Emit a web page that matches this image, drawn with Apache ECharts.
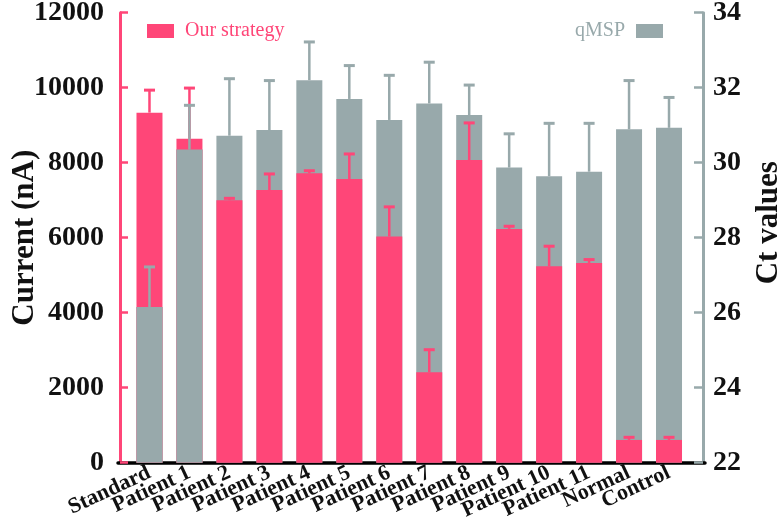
<!DOCTYPE html>
<html>
<head>
<meta charset="utf-8">
<script src="https://cdn.jsdelivr.net/npm/echarts@6/dist/echarts.min.js"></script>
<style>html,body{margin:0;padding:0;background:#fff;}#chart{width:784px;height:532px;}</style>
</head>
<body>
<div id="chart"></div>
<script>
const categories = ['Standard','Patient 1','Patient 2','Patient 3','Patient 4','Patient 5','Patient 6','Patient 7','Patient 8','Patient 9','Patient 10','Patient 11','Normal','Control'];
const currentValues = [9335, 8640, 7000, 7270, 7716, 7563, 6032, 2413, 8071, 6235, 5238, 5327, 607, 607];
const currentErrors = [600, 1350, 50, 430, 70, 670, 790, 600, 990, 70, 535, 90, 70, 70];
const ctValues = [26.15, 30.35, 30.72, 30.87, 32.2, 31.7, 31.14, 31.58, 31.27, 29.87, 29.64, 29.76, 30.89, 30.93];
const ctErrors = [1.07, 1.18, 1.52, 1.32, 1.02, 0.89, 1.19, 1.1, 0.8, 0.9, 1.41, 1.29, 1.3, 0.81];
const currentTicks = {min: 0, max: 12000, interval: 2000};
const ctTicks = {min: 22, max: 34, interval: 2};

const PINK = '#ff4678';
const GRAY = '#98a9ab';
const FONT = 'Liberation Serif';

// gray bar drawn in front where it is the shorter of the two
const ctFront = ctValues.map((v, i) => {
  const g = (v - ctTicks.min) / (ctTicks.max - ctTicks.min);
  const p = (currentValues[i] - currentTicks.min) / (currentTicks.max - currentTicks.min);
  return g < p ? v : '-';
});
const pinkErrData = currentValues.map((v, i) => [i, v, v + currentErrors[i]]);
const grayErrData = ctValues.map((v, i) => [i, v, v + ctErrors[i]]);

function errRender(color) {
  return function (params, api) {
    const base = api.coord([api.value(0), api.value(1)]);
    const top = api.coord([api.value(0), api.value(2)]);
    const hw = 5.5;
    const st = {stroke: color, lineWidth: 2.5};
    return {
      type: 'group',
      children: [
        {type: 'line', shape: {x1: base[0], y1: base[1], x2: top[0], y2: top[1]}, style: st},
        {type: 'line', shape: {x1: top[0] - hw, y1: top[1], x2: top[0] + hw, y2: top[1]}, style: {stroke: color, lineWidth: 3}}
      ]
    };
  };
}

const chart = echarts.init(document.getElementById('chart'), null, {renderer: 'canvas'});
chart.setOption({
  animation: false,
  backgroundColor: '#fff',
  grid: [
    {left: 129.5, right: 95, top: 12.7, bottom: 69.3, containLabel: false, outerBoundsMode: 'none'},
    {left: 118, right: 79, top: 12.7, bottom: 69.3, containLabel: false, outerBoundsMode: 'none'}
  ],
  legend: [
    {data: ['Our strategy'], left: 142, top: 16, icon: 'rect', itemWidth: 27, itemHeight: 14, itemGap: 10,
     textStyle: {color: PINK, fontFamily: FONT, fontSize: 20, padding: [0, 0, 0, 6]}},
    {data: ['qMSP'], right: 116, top: 16, align: 'right', icon: 'rect', itemWidth: 27, itemHeight: 14,
     textStyle: {color: GRAY, fontFamily: FONT, fontSize: 20, padding: [0, 6, 0, 0]}}
  ],
  xAxis: [
    {type: 'category', gridIndex: 0, data: categories, boundaryGap: true,
     axisLine: {show: false}, axisTick: {show: false},
     axisLabel: {interval: 0, rotate: 25, margin: 9, color: '#111', fontFamily: FONT, fontWeight: 'bold', fontSize: 22}},
    {type: 'value', gridIndex: 1, min: 0, max: 1, position: 'bottom',
     axisLine: {show: true, lineStyle: {color: '#000', width: 3.5}},
     axisTick: {show: false}, axisLabel: {show: false}, splitLine: {show: false}}
  ],
  yAxis: [
    {type: 'value', gridIndex: 0, position: 'left', offset: 9.5,
     min: currentTicks.min, max: currentTicks.max, interval: currentTicks.interval,
     name: 'Current (nA)', nameLocation: 'middle', nameGap: 95, nameRotate: 90, nameMoveOverlap: false,
     nameTextStyle: {color: '#111', fontFamily: FONT, fontWeight: 'bold', fontSize: 31,
                     verticalAlign: 'middle', padding: [0, 0, 34, 0]},
     axisLine: {show: true, lineStyle: {color: PINK, width: 3}},
     axisTick: {show: true, inside: true, length: 8, lineStyle: {color: PINK, width: 2.5}},
     axisLabel: {margin: 16, color: '#111', fontFamily: FONT, fontWeight: 'bold', fontSize: 28,
                 formatter: v => String(v)},
     splitLine: {show: false}},
    {type: 'value', gridIndex: 0, position: 'right', offset: 14,
     min: ctTicks.min, max: ctTicks.max, interval: ctTicks.interval,
     name: 'Ct values', nameLocation: 'middle', nameGap: 50, nameRotate: 90, nameMoveOverlap: false,
     nameTextStyle: {color: '#111', fontFamily: FONT, fontWeight: 'bold', fontSize: 31, padding: [0, 0, 0, 30]},
     axisLine: {show: true, lineStyle: {color: GRAY, width: 3}},
     axisTick: {show: true, inside: true, length: 9, lineStyle: {color: GRAY, width: 2.5}},
     axisLabel: {margin: 10, color: '#111', fontFamily: FONT, fontWeight: 'bold', fontSize: 28,
                 formatter: v => String(v)},
     splitLine: {show: false}},
    {type: 'value', gridIndex: 1, show: false, min: 0, max: 1}
  ],
  series: [
    {name: 'qMSP', type: 'bar', xAxisIndex: 0, yAxisIndex: 1, data: ctValues, barWidth: 26, barGap: '-100%',
     itemStyle: {color: GRAY}, z: 2},
    {name: 'Our strategy', type: 'bar', xAxisIndex: 0, yAxisIndex: 0, data: currentValues, barWidth: 26, barGap: '-100%',
     itemStyle: {color: PINK}, z: 3},
    {name: 'qMSP', type: 'bar', xAxisIndex: 0, yAxisIndex: 1, data: ctFront, barWidth: 26, barGap: '-100%',
     itemStyle: {color: GRAY}, z: 4},
    {name: 'pinkErr', type: 'custom', xAxisIndex: 0, yAxisIndex: 0, data: pinkErrData,
     renderItem: errRender(PINK), encode: {x: 0, y: [1, 2]}, z: 5},
    {name: 'grayErr', type: 'custom', xAxisIndex: 0, yAxisIndex: 1, data: grayErrData,
     renderItem: errRender(GRAY), encode: {x: 0, y: [1, 2]}, z: 6}
  ]
});
</script>
</body>
</html>
